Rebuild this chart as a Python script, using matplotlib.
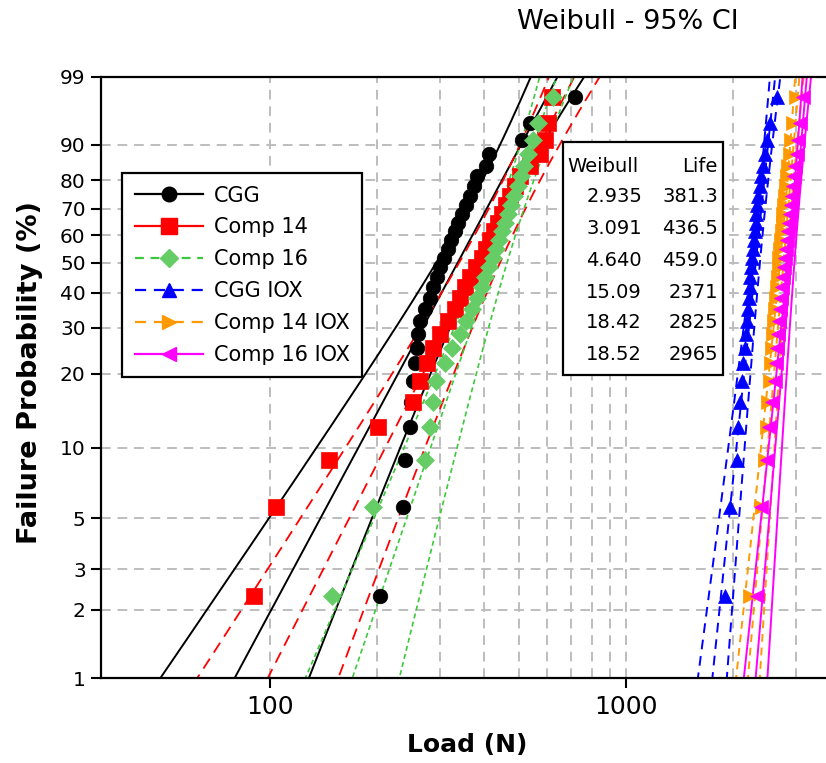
import numpy as np
import matplotlib
matplotlib.use("Agg")
import matplotlib.pyplot as plt
from matplotlib.lines import Line2D
from matplotlib.patches import Rectangle
from matplotlib.ticker import FixedLocator, NullFormatter, NullLocator

plt.rcParams['font.family'] = ['DejaVu Sans']

# ---------------- data ----------------
series_names = ["CGG", "Comp 14", "Comp 16", "CGG IOX", "Comp 14 IOX", "Comp 16 IOX"]
shape = [2.935, 3.091, 4.640, 15.09, 18.42, 18.52]
life = [381.3, 436.5, 459.0, 2371, 2825, 2965]
shape_labels = ["2.935", "3.091", "4.640", "15.09", "18.42", "18.52"]
life_labels = ["381.3", "436.5", "459.0", "2371", "2825", "2965"]

# failure probability (%) of each ranked specimen (plot positions)
fail_prob = [2.3, 5.6, 8.9, 12.2, 15.5, 18.8, 22.0, 25.3, 28.6, 31.9,
             35.2, 38.5, 41.8, 45.1, 48.4, 51.6, 54.9, 58.2, 61.5, 64.8,
             68.1, 71.4, 74.7, 78.0, 81.3, 84.5, 87.8, 91.1, 94.4, 97.7]

load_cgg = [204, 236, 239, 247, 249, 252, 255, 259, 260, 264, 272, 281, 287, 294, 300,
            308, 316, 322, 331, 337, 346, 355, 365, 374, 381, 404, 412, 510, 537, 719]
load_comp14 = [90, 104, 146, 201, 252, 264, 276, 287, 300, 316, 331, 342, 353, 365, 379,
               394, 404, 415, 426, 437, 448, 460, 472, 488, 504, 537, 573, 592, 604, 620]
load_comp16 = [149, 195, 272, 281, 287, 293, 310, 324, 342, 355, 369, 381, 394, 402, 412,
               423, 431, 440, 448, 457, 466, 475, 485, 497, 507, 517, 531, 548, 566, 624]
load_cgg_iox = [1897, 1960, 2050, 2064, 2091, 2118, 2132, 2160, 2174, 2188, 2202, 2216, 2231, 2231, 2245,
                2260, 2274, 2289, 2304, 2319, 2319, 2334, 2349, 2380, 2395, 2426, 2458, 2489, 2538, 2656]
load_comp14_iox = [2231, 2410, 2458, 2489, 2505, 2538, 2554, 2571, 2587, 2604, 2621, 2638, 2656, 2673, 2690,
                   2690, 2708, 2725, 2743, 2761, 2761, 2779, 2797, 2815, 2833, 2852, 2888, 2907, 2945, 3003]
load_comp16_iox = [2334, 2395, 2489, 2521, 2571, 2621, 2638, 2656, 2673, 2690, 2708, 2725, 2743, 2761, 2779,
                   2797, 2815, 2833, 2852, 2870, 2888, 2907, 2926, 2945, 2964, 2984, 3023, 3042, 3082, 3142]

loads = [load_cgg, load_comp14, load_comp16, load_cgg_iox, load_comp14_iox, load_comp16_iox]

y_ticks = [1, 2, 3, 5, 10, 20, 30, 40, 50, 60, 70, 80, 90, 99]
x_ticks = [100, 1000]
x_grid = [200, 300, 400, 500, 600, 700, 800, 900, 2000, 3000]

# ---------------- styles ----------------
marker_colors = ['#000000', '#FF0000', '#66CC66', '#0000FF', '#FF9900', '#FF00FF']
line_colors = ['#000000', '#FF0000', '#3CC83C', '#0000FF', '#FF9900', '#FF00FF']
markers = ['o', 's', 'D', '^', '>', '<']
msizes = [10.5, 11.5, 9.5, 10.5, 10.5, 10.5]
plot_ls = ['-', (0, (6.5, 4)), (0, (3, 2)), (0, (5, 3.5)), (0, (4, 3)), '-']
plot_lw = [1.4, 1.3, 1.2, 1.4, 1.4, 1.4]
legend_ls = ['-', '-', (0, (4, 3)), (0, (5, 3.5)), (0, (5, 3.5)), '-']

W, H = 826, 763
fig = plt.figure(figsize=(W / 100, H / 100), dpi=100)
ax = fig.add_axes([101 / W, 1 - 678 / H, 725 / W, 601 / H])


def fwd(p):
    p = np.clip(np.asarray(p, dtype=float), 1e-6, 100 - 1e-6)
    return np.log(-np.log(1 - p / 100.0))


def inv(y):
    return 100.0 * (1 - np.exp(-np.exp(np.asarray(y, dtype=float))))


ax.set_xscale('log')
ax.set_yscale('function', functions=(fwd, inv))
ax.set_xlim(33.5, 3646)
ax.set_ylim(1, 99)

# fitted Weibull lines with 95% bands
n = len(fail_prob)
z = 1.96
u = np.linspace(np.log(-np.log(1 - 0.004)), np.log(-np.log(1 - 0.996)), 400)
pp = 100 * (1 - np.exp(-np.exp(u)))
for k in range(6):
    b = 1.0 / shape[k]
    lnt = np.log(life[k]) + u * b
    var = b ** 2 / n * (1.095 + 0.6079 * u ** 2 - 2 * 0.168 * u)
    half = z * np.sqrt(var)
    for off in (-half, 0 * half, half):
        ax.plot(np.exp(lnt + off), pp, color=line_colors[k], ls=plot_ls[k],
                lw=plot_lw[k], zorder=2)

for k in range(6):
    ax.plot(loads[k], fail_prob, ls='none', marker=markers[k], ms=msizes[k],
            color=marker_colors[k], mec=marker_colors[k], mew=0.5, zorder=3 + k * 0.1)

# ticks / grid
ax.yaxis.set_major_locator(FixedLocator(y_ticks))
ax.set_yticklabels([str(v) for v in y_ticks])
ax.yaxis.set_minor_locator(NullLocator())
ax.xaxis.set_major_locator(FixedLocator(x_ticks))
ax.set_xticklabels([str(v) for v in x_ticks])
ax.xaxis.set_minor_locator(FixedLocator(x_grid))
ax.xaxis.set_minor_formatter(NullFormatter())

ax.tick_params(axis='y', which='major', direction='out', length=7, width=1.5,
               labelsize=14.5, pad=4)
ax.tick_params(axis='x', which='major', direction='out', length=7, width=1.5,
               labelsize=18, pad=5)
ax.tick_params(axis='x', which='minor', length=0)

grid_kw = dict(color='#BDBDBD', lw=1.4, ls=(0, (5, 3.5)))
ax.grid(True, axis='x', which='both', **grid_kw)
ax.grid(True, axis='y', which='major', **grid_kw)
ax.set_axisbelow(True)

for s in ['left', 'bottom', 'top']:
    ax.spines[s].set_linewidth(1.6)
ax.spines['right'].set_visible(False)

# labels
fig.text(467 / W, 1 - 745 / H, "Load (N)", fontsize=18, fontweight='bold',
         ha='center', va='center')
fig.text(30 / W, 1 - 372 / H, "Failure Probability (%)", fontsize=19.5,
         fontweight='bold', ha='center', va='center', rotation=90)
fig.text(628 / W, 1 - 22 / H, "Weibull - 95% CI", fontsize=19.5, ha='center', va='center')

# legend
handles = [Line2D([], [], color=line_colors[k], ls=legend_ls[k], lw=1.6,
                  marker=markers[k], ms=msizes[k], mfc=marker_colors[k],
                  mec=marker_colors[k]) for k in range(6)]
leg = fig.legend(handles, series_names, loc='upper left',
                 bbox_to_anchor=(122 / W, 1 - 173 / H), bbox_transform=fig.transFigure,
                 fontsize=15, frameon=True, fancybox=False, edgecolor='black',
                 framealpha=1, borderpad=0.6, labelspacing=0.57, handlelength=3.3,
                 handletextpad=0.5, borderaxespad=0)
leg.get_frame().set_linewidth(1.6)
leg.set_zorder(10)

# parameter table
rect = Rectangle((563 / W, 1 - 375 / H), 160 / W, 233 / H, transform=fig.transFigure,
                 facecolor='white', edgecolor='black', lw=1.6, zorder=10)
fig.add_artist(rect)
fig.text(567 / W, 1 - 166 / H, "Weibull", fontsize=14, ha='left', va='center', zorder=11)
fig.text(718 / W, 1 - 166 / H, "Life", fontsize=14, ha='right', va='center', zorder=11)
row_y = [196, 228, 260, 292, 323, 355]
for k in range(6):
    fig.text(642 / W, 1 - row_y[k] / H, shape_labels[k], fontsize=14, ha='right',
             va='center', zorder=11)
    fig.text(718 / W, 1 - row_y[k] / H, life_labels[k], fontsize=14, ha='right',
             va='center', zorder=11)

fig.savefig("out.png", dpi=100)
